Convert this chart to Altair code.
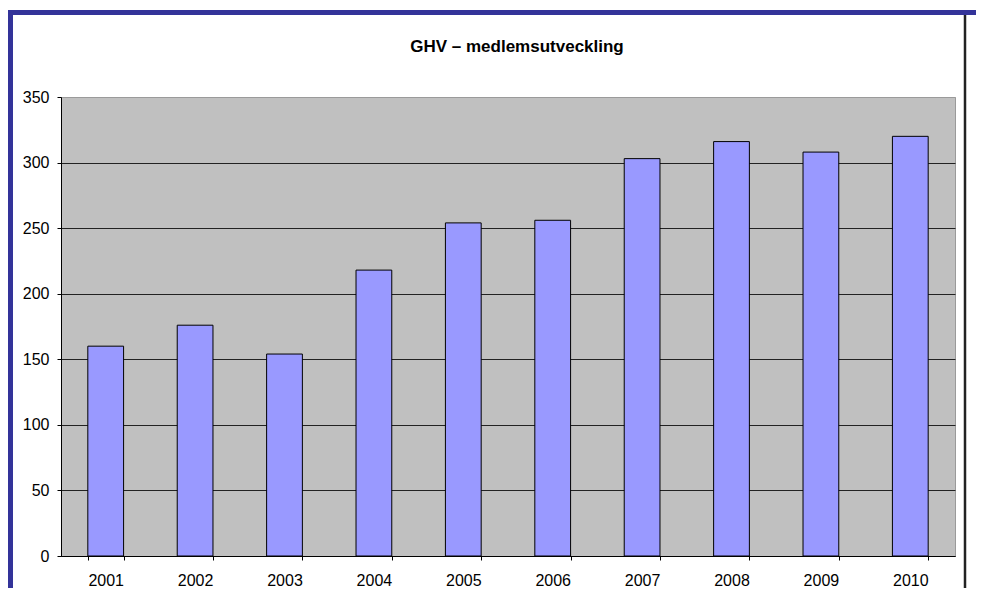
import altair as alt
import pandas as pd

years = ["2001", "2002", "2003", "2004", "2005", "2006", "2007", "2008", "2009", "2010"]
members = [160, 176, 154, 218, 254, 256, 303, 316, 308, 320]
y_ticks = [0, 50, 100, 150, 200, 250, 300, 350]

df = pd.DataFrame({"year": years, "members": members})

FONT = "Liberation Sans"
FRAME_BLUE = "#333399"

bars = alt.Chart(df).mark_bar(
    fill="#9999FF", stroke="black", strokeWidth=1
).encode(
    x=alt.X(
        "year:N",
        sort=years,
        scale=alt.Scale(paddingInner=0.6, paddingOuter=0.3),
        axis=alt.Axis(
            title=None, labelAngle=0, tickBand="extent", tickSize=4,
            labelPadding=12, labelFontSize=16, labelFont=FONT, labelColor="black",
            domainColor="black", tickColor="black", grid=False,
        ),
    ),
    y=alt.Y(
        "members:Q",
        scale=alt.Scale(domain=[0, 350], nice=False),
        axis=alt.Axis(
            title=None, values=y_ticks, tickSize=4, labelPadding=8,
            labelFontSize=16, labelFont=FONT, labelColor="black",
            domainColor="black", tickColor="black",
            grid=True,
            gridColor={"condition": {"test": "datum.value === 350", "value": "#9a9a9a"}, "value": "#222222"},
        ),
    ),
)

frame_data = alt.Data(values=[{"k": 1}])
left_border = alt.Chart(frame_data).mark_rule(color=FRAME_BLUE, strokeWidth=5).encode(
    x=alt.value(-50.5), y=alt.value(-87), y2=alt.value(620)
)
top_border = alt.Chart(frame_data).mark_rule(color=FRAME_BLUE, strokeWidth=5).encode(
    x=alt.value(-53), x2=alt.value(930), y=alt.value(-84.5)
)
right_line = alt.Chart(frame_data).mark_rule(color="#222222", strokeWidth=2.5).encode(
    x=alt.value(904), y=alt.value(-82), y2=alt.value(620)
)

chart = alt.layer(bars, left_border, top_border, right_line).properties(
    width=894,
    height=459,
    title=alt.TitleParams(
        "GHV – medlemsutveckling", font=FONT, fontSize=17, fontWeight="bold",
        color="black", anchor="middle", offset=-48, dx=9,
    ),
    autosize=alt.AutoSizeParams(type="none"),
    padding={"left": 53, "top": 89, "right": 21, "bottom": 32},
    background="white",
).configure_view(
    fill="#C0C0C0", stroke="#9a9a9a", strokeWidth=1
)

chart.save("out.html", embed_options={"renderer": "svg", "actions": False})
